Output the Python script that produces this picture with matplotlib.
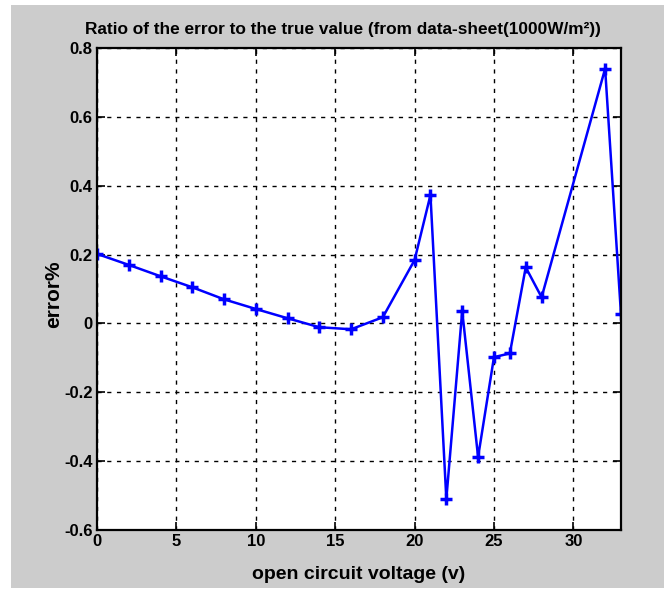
import matplotlib
matplotlib.use("Agg")
import matplotlib.pyplot as plt
from matplotlib.patches import Rectangle
from matplotlib import font_manager

voltage = [0, 2, 4, 6, 8, 10, 12, 14, 16, 18, 20, 21, 22, 23, 24, 25, 26, 27, 28, 32, 33]
error_pct = [0.202, 0.170, 0.137, 0.105, 0.070, 0.042, 0.015, -0.011, -0.017, 0.018,
             0.184, 0.373, -0.510, 0.036, -0.388, -0.098, -0.087, 0.163, 0.076, 0.740, 0.026]
xticks = [0, 5, 10, 15, 20, 25, 30]
yticks = [-0.6, -0.4, -0.2, 0, 0.2, 0.4, 0.6, 0.8]
ytick_labels = ["-0.6", "-0.4", "-0.2", "0", "0.2", "0.4", "0.6", "0.8"]

names = {f.name for f in font_manager.fontManager.ttflist}
fam = ["Liberation Sans Narrow", "Liberation Sans", "DejaVu Sans"]
fam = [f for f in fam if f in names] or ["DejaVu Sans"]
plt.rcParams['font.family'] = fam

W, H = 669, 593
fig = plt.figure(figsize=(W / 100, H / 100), dpi=100, facecolor="white")
bg = Rectangle((11 / W, 1 - 588 / H), (664 - 11) / W, (588 - 5) / H,
               transform=fig.transFigure, facecolor="#cccccc",
               edgecolor="none", zorder=-10)
fig.patches.append(bg)

ax = fig.add_axes([97 / W, 1 - 530 / H, (621 - 97) / W, (530 - 48) / H])
ax.set_zorder(1)
ax.set_facecolor("white")
ax.plot(voltage, error_pct, color="#0000ff", lw=1.8, marker="+", ms=8, mew=2.5)
ax.set_xlim(0, 33)
ax.set_ylim(-0.6, 0.8)
ax.set_xticks(xticks)
ax.set_yticks(yticks)
ax.set_yticklabels(ytick_labels)
ax.grid(True, color="black", linestyle=(0, (3, 4)), linewidth=1)
ax.tick_params(direction="in", length=6, width=1.2, top=True, right=True,
               labelsize=12, pad=3)
for lab in ax.get_xticklabels() + ax.get_yticklabels():
    lab.set_fontweight("bold")
for s in ax.spines.values():
    s.set_linewidth(1.6)
    s.set_zorder(5)

ax.set_title("Ratio of the error to the true value (from data-sheet(1000W/m\u00b2))",
             fontsize=12.4, fontweight="bold", pad=10, x=0.469)
ax.set_xlabel("open circuit voltage (v)", fontsize=14, fontweight="bold", labelpad=12)
ax.set_ylabel("error%", fontsize=15, fontweight="bold")
ax.yaxis.set_label_coords(-0.065, 0.49)

fig.savefig("out.png", dpi=100, facecolor="white")
